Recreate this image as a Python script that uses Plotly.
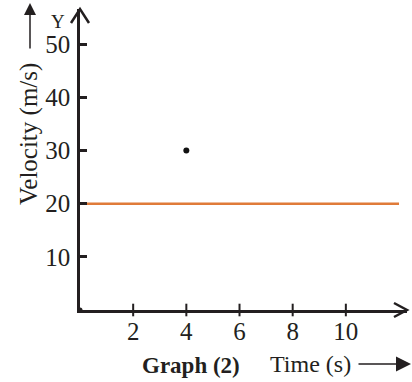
import plotly.graph_objects as go

# ---- data ----
x_tick_vals = [2, 4, 6, 8, 10]
y_tick_vals = [10, 20, 30, 40, 50]
line_x = [0, 12]
line_y = [20, 20]
point_x = [4]
point_y = [30]

X_MAX = 12.3
Y_MAX = 56.6
AX = "#231f20"
FONT = "Liberation Serif"

fig = go.Figure()
fig.add_trace(go.Scatter(x=line_x, y=line_y, mode="lines",
                         line=dict(color="#E07B39", width=2.5), hoverinfo="skip"))
fig.add_trace(go.Scatter(x=point_x, y=point_y, mode="markers",
                         marker=dict(color="#111111", size=6), hoverinfo="skip"))
# x-axis ticks crossing the axis
fig.add_trace(go.Scatter(x=x_tick_vals, y=[0] * len(x_tick_vals), mode="markers",
                         marker=dict(symbol="line-ns", size=9,
                                     line=dict(color=AX, width=2)),
                         cliponaxis=False, hoverinfo="skip"))
# origin dot
fig.add_trace(go.Scatter(x=[0], y=[0], mode="markers",
                         marker=dict(color=AX, size=5), cliponaxis=False, hoverinfo="skip"))

fig.update_xaxes(range=[0, X_MAX], showline=True, linecolor=AX, linewidth=2.5,
                 showgrid=False, zeroline=False, ticks="", tickvals=x_tick_vals,
                 ticktext=[str(v) for v in x_tick_vals],
                 tickfont=dict(family=FONT, size=25, color="#231f20"),
                 ticklabelstandoff=-3)
fig.update_yaxes(range=[0, Y_MAX], showline=True, linecolor=AX, linewidth=2.5,
                 showgrid=False, zeroline=False, ticks="inside", ticklen=7,
                 tickwidth=2.5, tickcolor=AX, tickvals=y_tick_vals,
                 ticktext=[str(v) for v in y_tick_vals],
                 tickfont=dict(family=FONT, size=25, color="#231f20"),
                 ticklabelstandoff=2)

W, H = 412, 382
L, T = 80, 9
R = W - 407
B = H - 310
pw, ph = W - L - R, H - T - B


def px(xp):
    return (xp - L) / pw


def py(yp):
    return (H - B - yp) / ph


# axis arrowheads (open chevrons)
shapes = [
    dict(type="path", xref="paper", yref="paper",
         path=f"M {-9/pw},{1-14/ph} L 0,1 L {9/pw},{1-14/ph}",
         line=dict(color=AX, width=2.5)),
    dict(type="path", xref="paper", yref="paper",
         path=f"M {1-13/pw},{7/ph} L 1,0 L {1-13/pw},{-7/ph}",
         line=dict(color=AX, width=2.5)),
]

ann_common = dict(xref="paper", yref="paper", xanchor="center", yanchor="middle")
annotations = [
    dict(text="Velocity (m/s)", x=px(29), y=py(134), textangle=-90, showarrow=False,
         font=dict(family=FONT, size=25, color="#231f20"), **ann_common),
    dict(text="", x=px(30), y=py(3), ax=0, ay=47, showarrow=True, arrowhead=2,
         arrowsize=1.6, arrowwidth=1.5, arrowcolor=AX, **ann_common),
    dict(text="Y", x=px(58), y=py(22), showarrow=False,
         font=dict(family=FONT, size=19, color="#231f20"), **ann_common),
    dict(text="<b>Graph (2)</b>", x=px(191), y=py(365), showarrow=False,
         font=dict(family=FONT, size=23, color="#231f20"), **ann_common),
    dict(text="Time (s)", x=px(310), y=py(364), showarrow=False,
         font=dict(family=FONT, size=24, color="#231f20"), **ann_common),
    dict(text="", x=px(411), y=py(364), ax=-54, ay=0, showarrow=True, arrowhead=2,
         arrowsize=2, arrowwidth=1.5, arrowcolor=AX, **ann_common),
]

fig.update_layout(width=W, height=H, margin=dict(l=L, r=R, t=T, b=B),
                  plot_bgcolor="white", paper_bgcolor="white", showlegend=False,
                  shapes=shapes, annotations=annotations, hovermode=False)

fig.write_html("out.html", config={"displayModeBar": False},
               post_script="document.body.style.margin='0';")
